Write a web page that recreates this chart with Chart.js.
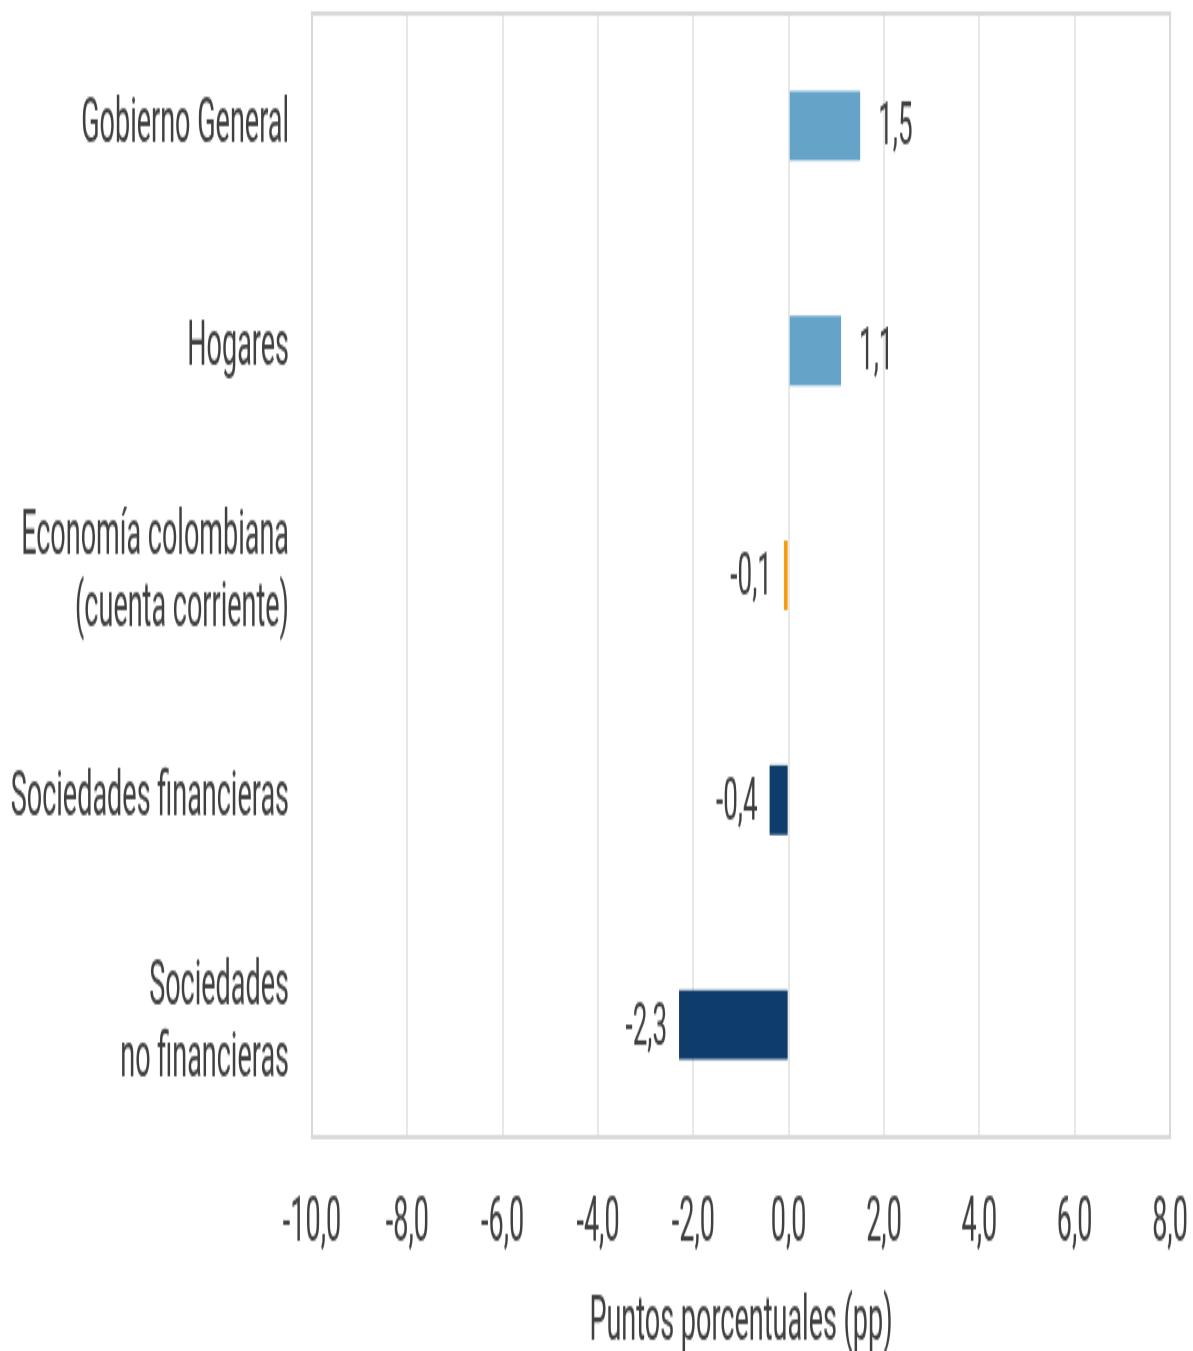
<!DOCTYPE html>
<html>
<head>
<meta charset="utf-8">
<script src="https://cdn.jsdelivr.net/npm/chart.js@4"></script>
<style>
  html, body { margin: 0; padding: 0; background: #fff; overflow: hidden; }
  #chart { display: block; }
</style>
</head>
<body>
<!-- drawn at 1193x600 and stretched to 1351 px tall, like the reference -->
<canvas id="chart" width="1193" height="600"></canvas>
<script>
// Data
const categories = [
    'Gobierno General',
    'Hogares',
    ['Economía colombiana', '(cuenta corriente)'],
    'Sociedades financieras',
    ['Sociedades', 'no financieras']
];
const values = [1.5, 1.1, -0.1, -0.4, -2.3];
const barColors = ['#65a3c9', '#65a3c9', '#f39c12', '#0f3d6b', '#0f3d6b'];
const xMin = -10, xMax = 8, xStep = 2;
const axisTitle = 'Puntos porcentuales (pp)';

const textColor = '#404040';
const fmt = v => Number(v).toFixed(1).replace('.', ',');

// Frame around the plot area
const framePlugin = {
    id: 'frame',
    afterDraw(chart) {
        const { ctx, chartArea: a } = chart;
        ctx.save();
        ctx.strokeStyle = '#d9d9d9';
        ctx.lineWidth = 2;
        ctx.strokeRect(a.left, a.top, a.right - a.left, a.bottom - a.top);
        ctx.restore();
    }
};

// Value labels at bar ends
const labelPlugin = {
    id: 'valueLabels',
    afterDatasetsDraw(chart) {
        const { ctx } = chart;
        const meta = chart.getDatasetMeta(0);
        ctx.save();
        ctx.font = '26px Roboto';
        ctx.fillStyle = textColor;
        ctx.textBaseline = 'middle';
        meta.data.forEach((bar, i) => {
            const v = values[i];
            if (v >= 0) {
                ctx.textAlign = 'left';
                ctx.fillText(fmt(v), bar.x + 18, bar.y + 2);
            } else {
                ctx.textAlign = 'right';
                ctx.fillText(fmt(v), bar.x - 12, bar.y + 2);
            }
        });
        ctx.restore();
    }
};

const canvas = document.getElementById('chart');
new Chart(canvas, {
    type: 'bar',
    data: {
        labels: categories,
        datasets: [{
            data: values,
            backgroundColor: barColors,
            borderWidth: 0,
            categoryPercentage: 1,
            barPercentage: 0.31
        }]
    },
    options: {
        indexAxis: 'y',
        responsive: false,
        devicePixelRatio: 1,
        animation: false,
        layout: { padding: { top: 6, right: 0, bottom: 0, left: 0 } },
        plugins: { legend: { display: false }, tooltip: { enabled: false } },
        scales: {
            x: {
                min: xMin,
                max: xMax,
                grid: { color: '#e8e8e8', lineWidth: 2, drawTicks: false },
                border: { color: '#d9d9d9', width: 2 },
                afterFit(scale) {
                    scale.height = 95;
                    scale.paddingRight = 23;
                },
                ticks: {
                    stepSize: xStep,
                    padding: 23,
                    color: textColor,
                    font: { family: 'Roboto', size: 27 },
                    maxRotation: 0,
                    callback: v => fmt(v)
                },
                title: {
                    display: true,
                    text: axisTitle,
                    color: textColor,
                    font: { family: 'Roboto', size: 27 },
                    padding: { top: 8, bottom: -4 }
                }
            },
            y: {
                grid: { display: false, drawTicks: false },
                border: { color: '#d9d9d9', width: 2 },
                afterFit(scale) {
                    scale.width = 312;
                    scale.paddingTop = 0;
                    scale.paddingBottom = 0;
                },
                ticks: {
                    padding: 23,
                    color: textColor,
                    font: { family: 'Roboto', size: 27, lineHeight: 1.18 }
                }
            }
        }
    },
    plugins: [framePlugin, labelPlugin]
});
// stretch vertically like the reference image
canvas.style.width = '1193px';
canvas.style.height = '1351px';
</script>
</body>
</html>
